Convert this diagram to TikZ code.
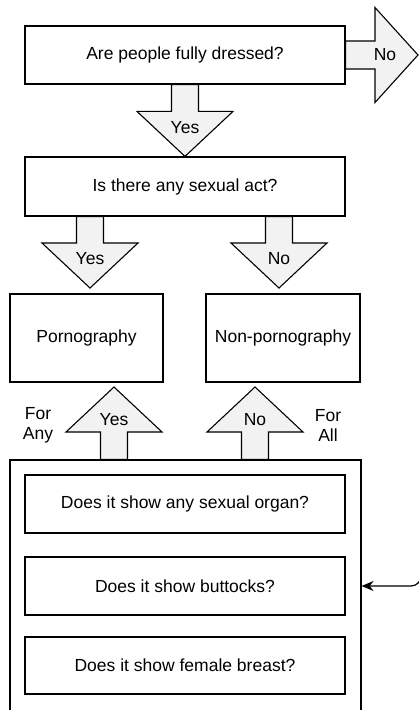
\documentclass[tikz,border=0pt]{standalone}
\usepackage{fontspec}
\setmainfont{Liberation Sans}
\usetikzlibrary{calc,arrows.meta}

\tikzset{
  box/.style={draw, line width=1.2pt, inner sep=0pt, minimum width=320pt, minimum height=58pt},
  leaf/.style={draw, line width=1.2pt, inner sep=0pt, minimum width=153pt, minimum height=88pt},
  fat/.style={draw, fill=black!5, line width=1.1pt},
}

% block arrows, from tail to tip
\newcommand{\fatdown}[3]{%
  \draw[fat] let \p1=(#1), \p2=(#2) in
    (\x1-13.5pt,\y1) -- (\x1+13.5pt,\y1) -- (\x1+13.5pt,\y2+45pt) -- (\x1+48pt,\y2+45pt)
    -- (\x2,\y2) -- (\x1-48pt,\y2+45pt) -- (\x1-13.5pt,\y2+45pt) -- cycle
    (\x1,\y2+29pt) node {#3};}
\newcommand{\fatup}[3]{%
  \draw[fat] let \p1=(#1), \p2=(#2) in
    (\x1-13.5pt,\y1) -- (\x1+13.5pt,\y1) -- (\x1+13.5pt,\y2-45pt) -- (\x1+48pt,\y2-45pt)
    -- (\x2,\y2) -- (\x1-48pt,\y2-45pt) -- (\x1-13.5pt,\y2-45pt) -- cycle
    (\x1,\y2-33pt) node {#3};}
\newcommand{\fatright}[3]{%
  \draw[fat] let \p1=(#1), \p2=(#2) in
    (\x1,\y1-14pt) -- (\x1,\y1+14pt) -- (\x2-43pt,\y1+14pt) -- (\x2-43pt,\y1+47.5pt)
    -- (\x2,\y2) -- (\x2-43pt,\y1-47.5pt) -- (\x2-43pt,\y1-14pt) -- cycle
    (\x2-33pt,\y2) node {#3};}

\begin{document}
\begin{tikzpicture}[x=1pt,y=-1pt, every node/.style={font=\fontsize{17.5}{20}\selectfont}]
\useasboundingbox (0,0) rectangle (419,710);

\node[box](dressed) at (185,55){Are people fully dressed?};
\node[box, minimum height=59pt](act) at (185,186.5){Is there any sexual act?};
\node[leaf](porn) at (86.5,338){Pornography};
\node[leaf, minimum width=154pt](nonporn) at (283,338){Non-pornography};

\node[draw, line width=1.2pt, minimum width=351pt, minimum height=290pt](group) at (185.5,605){};
\node[box](organ) at (185,504){Does it show any sexual organ?};
\node[box](buttocks) at (185,586){Does it show buttocks?};
\node[box, minimum height=57pt](breast) at (185,665.5){Does it show female breast?};

\node[align=center](any) at (38,425){For\\Any};
\node[align=center](all) at (328,425){For\\All};

\coordinate (noOut) at (418,55);
\coordinate (pornIn) at (90,288);
\coordinate (nonIn) at (279,288);
\coordinate (anyOut) at (114,387);
\coordinate (allOut) at (255,387);
\coordinate (ext) at (421,550);

\fatright{dressed.east}{noOut}{No}
\fatdown{dressed.south}{act.north}{Yes}
\fatdown{act.south -| pornIn}{pornIn}{Yes}
\fatdown{act.south -| nonIn}{nonIn}{No}
\fatup{group.north -| anyOut}{anyOut}{Yes}
\fatup{group.north -| allOut}{allOut}{No}

\draw[line width=1.2pt, rounded corners=10pt, -{Stealth[length=12pt,width=10pt]}]
  (ext) |- (buttocks.east -| group.east);
\end{tikzpicture}
\end{document}
